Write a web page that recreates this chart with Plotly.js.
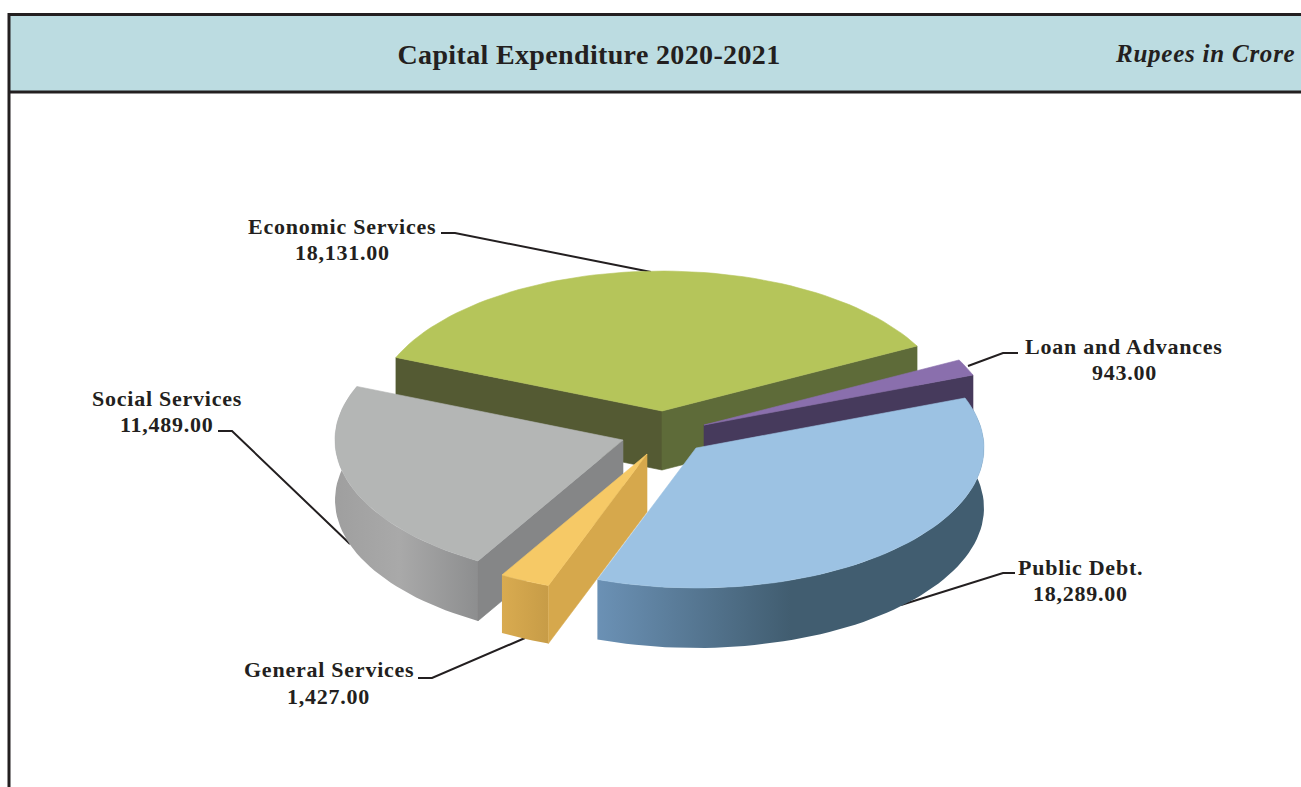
<!DOCTYPE html>
<html><head><meta charset="utf-8">
<script src="https://cdn.plot.ly/plotly-3.0.1.min.js"></script>
<style>html,body{margin:0;padding:0;background:#fff}
.annotation-text{letter-spacing:.76px}
.gtitle{letter-spacing:.35px}</style></head>
<body><div id="chart" style="width:1301px;height:787px"></div>
<script>
const categories = ["Economic Services","Loan and Advances","Public Debt.","General Services","Social Services"];
const values = [18131,943,18289,1427,11489];
const titleText = "Capital Expenditure 2020-2021";
const unitText = "Rupees in Crore";

// styling and projection of the tilted pie (pixel axes)
const R = 288, K = 0.486, START = -67.5;
const apexX = [662,704,696,647,623];
const apexY = [411,425,448,454,440];
const depth = [59,59,60,58,60];
const topColor = ["#b5c55a","#8a6fad","#9cc2e3","#f6c966","#b4b6b5"];
const labelX = [342,1124,1080,328.5,166.5];
const nameY = [226,346,567,669,398];
const valueY = [252,372,593,696,424];
const leaderX = [[441,455,651],[1018,1003,968],[1015,1003,901],[418,432,525],[218,232,350]];
const leaderY = [[233,233,272],[353,353,366],[573,573,605],[678,678,638],[431,431,544]];
const INK = "#231f20";

const total = values.reduce((a,b)=>a+b,0);
let acc = START;
const spans = values.map(v=>{const s=[acc,acc+v/total*360]; acc=s[1]; return s;});

function pt(i,deg,r,drop){
  const a=deg*Math.PI/180;
  return [apexX[i]+r*Math.sin(a), apexY[i]-K*r*Math.cos(a)+(drop||0)];
}
function arc(i,a0,a1,drop){
  const n=Math.max(2,Math.ceil(Math.abs(a1-a0)/2)), out=[];
  for(let j=0;j<=n;j++) out.push(pt(i,a0+(a1-a0)*j/n,R,drop));
  return out;
}
function poly(points,color,grad){
  const t={type:"scatter",mode:"lines",x:points.map(p=>p[0]),y:points.map(p=>p[1]),
    fill:"toself",line:{width:grad?0:0.6,color:color},fillcolor:color,hoverinfo:"skip",showlegend:false};
  if(grad) t.fillgradient={type:"horizontal",colorscale:grad};
  return t;
}
function topFace(i){return poly([[apexX[i],apexY[i]],...arc(i,spans[i][0],spans[i][1],0),[apexX[i],apexY[i]]],topColor[i]);}
function radial(i,deg,color){
  const p=pt(i,deg,R,0),q=pt(i,deg,R,depth[i]);
  return poly([[apexX[i],apexY[i]],p,q,[apexX[i],apexY[i]+depth[i]],[apexX[i],apexY[i]]],color);
}
function rim(i,a0,a1,grad){
  const up=arc(i,a0,a1,0),down=arc(i,a0,a1,depth[i]).reverse();
  return poly([...up,...down,up[0]],"#888",grad);
}

const traces=[];
// leaders
categories.forEach((c,i)=>traces.push({type:"scatter",mode:"lines",x:leaderX[i],y:leaderY[i],
  line:{color:INK,width:2},hoverinfo:"skip",showlegend:false}));
// Economic Services
traces.push(radial(0,spans[0][0],"#545a33"),radial(0,spans[0][1],"#5e6b39"),topFace(0));
// Loan and Advances
traces.push(radial(1,spans[1][1],"#463a5c"),topFace(1));
// Social Services
traces.push(rim(4,spans[4][0],spans[4][1],[[0,"#9f9f9f"],[0.45,"#a9a9a9"],[1,"#8d8e8f"]]),
            radial(4,spans[4][0],"#858687"),topFace(4));
// General Services
traces.push(rim(3,spans[3][0],spans[3][1],[[0,"#d9ab50"],[1,"#c79c47"]]),
            radial(3,spans[3][0],"#d6a84c"),topFace(3));
// Public Debt
traces.push(rim(2,spans[2][0],spans[2][1],[[0,"#6b91b5"],[0.5,"#415d70"],[1,"#415d70"]]),topFace(2));

const fmt=v=>v.toLocaleString("en-US",{minimumFractionDigits:2,maximumFractionDigits:2});
const labelFont={family:"Liberation Serif",size:22,color:INK};
const annotations=[];
categories.forEach((c,i)=>{
  annotations.push({xref:"x",yref:"y",x:labelX[i],y:nameY[i],text:"<b>"+c+"</b>",showarrow:false,xanchor:"center",yanchor:"middle",font:labelFont});
  annotations.push({xref:"x",yref:"y",x:labelX[i],y:valueY[i],text:"<b>"+fmt(values[i])+"</b>",showarrow:false,xanchor:"center",yanchor:"middle",font:labelFont});
});
annotations.push({xref:"x",yref:"y",x:1296.5,y:53,xanchor:"right",yanchor:"middle",showarrow:false,
  text:"<b><i>"+unitText+"</i></b>",font:{family:"Liberation Serif",size:25,color:INK}});

const shapes=[
  {type:"rect",xref:"x",yref:"y",x0:10,x1:1301,y0:15,y1:92,fillcolor:"#bcdce1",line:{width:0},layer:"below"},
  {type:"line",xref:"x",yref:"y",x0:8,x1:1301,y0:14.5,y1:14.5,line:{color:"#231f20",width:3},layer:"below"},
  {type:"line",xref:"x",yref:"y",x0:8,x1:1301,y0:92,y1:92,line:{color:"#231f20",width:3},layer:"below"},
  {type:"line",xref:"x",yref:"y",x0:9,x1:9,y0:13,y1:787,line:{color:"#231f20",width:3},layer:"below"}
];

Plotly.newPlot("chart",traces,{
  width:1301,height:787,margin:{l:0,r:0,t:0,b:0,pad:0},
  paper_bgcolor:"#fff",plot_bgcolor:"#fff",showlegend:false,
  title:{text:"<b>"+titleText+"</b>",x:589/1301,xanchor:"center",xref:"paper",y:1-54/787,yanchor:"middle",yref:"paper",
    font:{family:"Liberation Serif",size:28,color:INK}},
  xaxis:{range:[0,1301],visible:false,fixedrange:true},
  yaxis:{range:[787,0],visible:false,fixedrange:true},
  shapes,annotations
},{displayModeBar:false,staticPlot:true});
</script></body></html>
